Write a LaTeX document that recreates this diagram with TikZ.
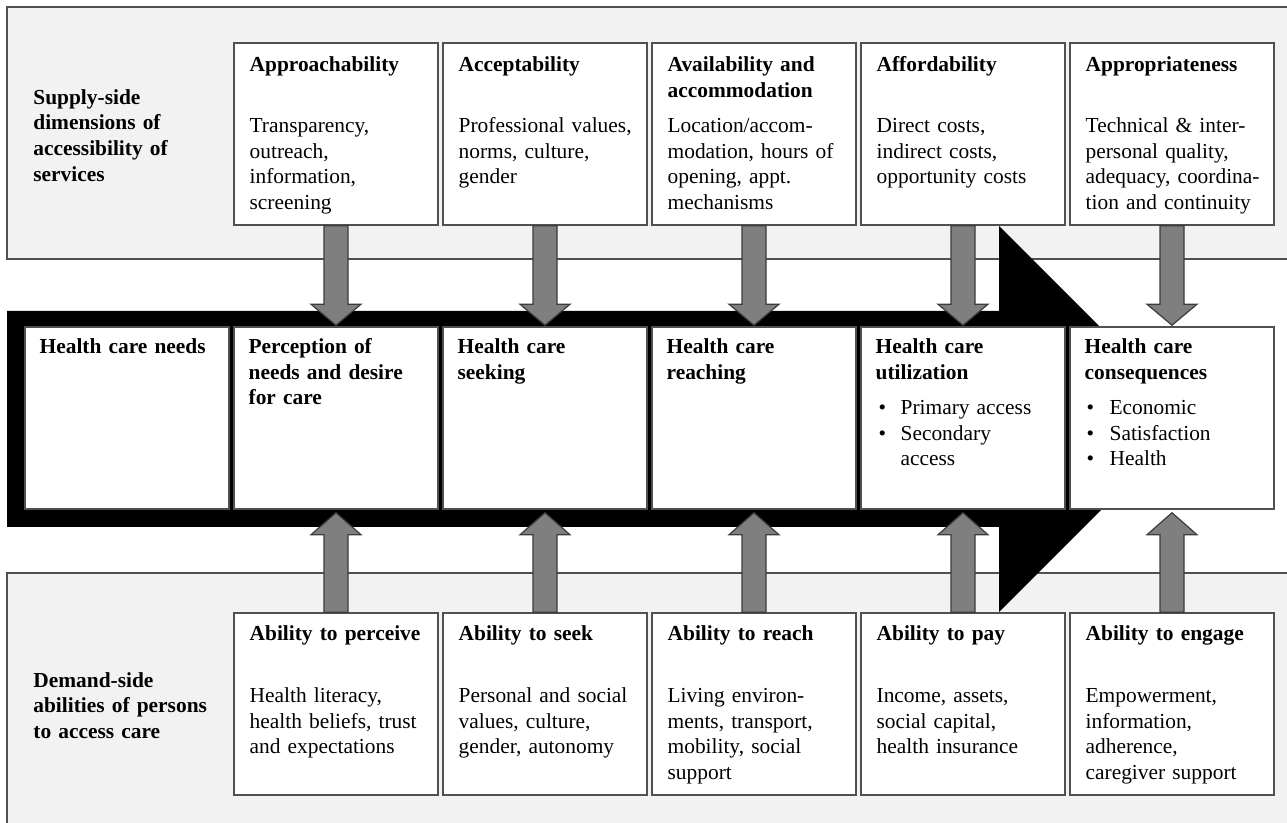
\documentclass[tikz,border=0pt]{standalone}
\usepackage{fontspec}
\setmainfont{Liberation Serif}
\usetikzlibrary{positioning}
\definecolor{panelgray}{HTML}{F2F2F2}
\definecolor{linegray}{HTML}{505050}
\definecolor{arrowgray}{HTML}{7F7F7F}
\definecolor{arrowline}{HTML}{3C3C3C}
\tikzset{
  panel/.style={
    draw=linegray,
    line width=0.75pt,
    fill=panelgray
    },
  box/.style={
    rectangle,
    minimum width=102pt,
    minimum height=91pt,
    inner sep=0pt,
    draw=linegray,
    line width=0.75pt,
    fill=white
    },
  ttl/.style={
    anchor=north west,
    inner sep=0pt,
    align=left,
    text width=95pt,
    font=\fontsize{10.7}{12.8}\selectfont\bfseries
    },
  txt/.style={
    anchor=north west,
    inner sep=0pt,
    align=left,
    text width=95pt,
    font=\fontsize{10.7}{12.8}\selectfont
    },
  garrow/.style={
    draw=arrowline,
    line width=0.6pt,
    fill=arrowgray
    }
}

\begin{document}
\begin{tikzpicture}[x=0.5pt, y=-0.5pt, node distance=1.75pt]
\useasboundingbox (0,0) rectangle (1287,823);

% grey panels
\begin{scope}
\clip (0,0) rectangle (1287,823);
\draw[panel] (7,7) rectangle (1300,259);
\draw[panel] (7,573) rectangle (1300,840);
\end{scope}

% big black arrow
\fill[black] (7,311) -- (999,311) -- (999,226) -- (1192,419) -- (999,612) -- (999,527) -- (7,527) -- cycle;

% boxes
\node (sup1) [box] at (336,134) {};
\node (sup2) [box,right=of sup1] {};
\node (sup3) [box,right=of sup2] {};
\node (sup4) [box,right=of sup3] {};
\node (sup5) [box,right=of sup4] {};

\node (hc1) [box] at (127,418) {};
\node (hc2) [box,right=of hc1] {};
\node (hc3) [box,right=of hc2] {};
\node (hc4) [box,right=of hc3] {};
\node (hc5) [box,right=of hc4] {};
\node (hc6) [box,right=of hc5] {};

\node (dem1) [box] at (336,704) {};
\node (dem2) [box,right=of dem1] {};
\node (dem3) [box,right=of dem2] {};
\node (dem4) [box,right=of dem3] {};
\node (dem5) [box,right=of dem4] {};

% grey arrows
\foreach \i/\j in {1/2,2/3,3/4,4/5,5/6} {
  \draw[garrow] ([shift={(-12,0)}]sup\i.south) -- ([shift={(-12,-22)}]hc\j.north)
    -- ([shift={(-25,-22)}]hc\j.north) -- ([shift={(0,-1)}]hc\j.north)
    -- ([shift={(25,-22)}]hc\j.north) -- ([shift={(12,-22)}]hc\j.north)
    -- ([shift={(12,0)}]sup\i.south) -- cycle;
  \draw[garrow] ([shift={(-12,0)}]dem\i.north) -- ([shift={(-12,25)}]hc\j.south)
    -- ([shift={(-25,25)}]hc\j.south) -- ([shift={(0,3)}]hc\j.south)
    -- ([shift={(25,25)}]hc\j.south) -- ([shift={(12,25)}]hc\j.south)
    -- ([shift={(12,0)}]dem\i.north) -- cycle;
}

% row labels
\node (suplbl) [ttl] at (33,86) {\strut Supply-side\\dimensions of\\accessibility of\\services};
\node (demlbl) [ttl] at (33,669) {\strut Demand-side\\abilities of persons\\to access care};

% supply side
\node (sup1t) [ttl] at ([shift={(16,11)}]sup1.north west) {\strut Approachability};
\node (sup1d) [txt] at ([shift={(16,72)}]sup1.north west) {\strut Transparency,\\outreach,\\information,\\screening};
\node (sup2t) [ttl] at ([shift={(16,11)}]sup2.north west) {\strut Acceptability};
\node (sup2d) [txt] at ([shift={(16,72)}]sup2.north west) {\strut Professional values,\\norms, culture,\\gender};
\node (sup3t) [ttl] at ([shift={(16,11)}]sup3.north west) {\strut Availability and\\accommodation};
\node (sup3d) [txt] at ([shift={(16,72)}]sup3.north west) {\strut Location/accom-\\modation, hours of\\opening, appt.\\mechanisms};
\node (sup4t) [ttl] at ([shift={(16,11)}]sup4.north west) {\strut Affordability};
\node (sup4d) [txt] at ([shift={(16,72)}]sup4.north west) {\strut Direct costs,\\indirect costs,\\opportunity costs};
\node (sup5t) [ttl] at ([shift={(16,11)}]sup5.north west) {\strut Appropriateness};
\node (sup5d) [txt] at ([shift={(16,72)}]sup5.north west) {\strut Technical \& inter-\\personal quality,\\adequacy, coordina-\\tion and continuity};

% health care steps
\node (hc1t) [ttl] at ([shift={(15,9)}]hc1.north west) {\strut Health care needs};
\node (hc2t) [ttl] at ([shift={(15,9)}]hc2.north west) {\strut Perception of\\needs and desire\\for care};
\node (hc3t) [ttl] at ([shift={(15,9)}]hc3.north west) {\strut Health care\\seeking};
\node (hc4t) [ttl] at ([shift={(15,9)}]hc4.north west) {\strut Health care\\reaching};
\node (hc5t) [ttl] at ([shift={(15,9)}]hc5.north west) {\strut Health care\\utilization};
\node (hc5d) [txt] at ([shift={(18,70)}]hc5.north west) {\strut\makebox[11pt][l]{\textbullet}Primary access\\\makebox[11pt][l]{\textbullet}Secondary\\\hspace*{11pt}access};
\node (hc6t) [ttl] at ([shift={(15,9)}]hc6.north west) {\strut Health care\\consequences};
\node (hc6d) [txt] at ([shift={(17,70)}]hc6.north west) {\strut\makebox[11.5pt][l]{\textbullet}Economic\\\makebox[11.5pt][l]{\textbullet}Satisfaction\\\makebox[11.5pt][l]{\textbullet}Health};

% demand side
\node (dem1t) [ttl] at ([shift={(16,10)}]dem1.north west) {\strut Ability to perceive};
\node (dem1d) [txt] at ([shift={(16,72)}]dem1.north west) {\strut Health literacy,\\health beliefs, trust\\and expectations};
\node (dem2t) [ttl] at ([shift={(16,10)}]dem2.north west) {\strut Ability to seek};
\node (dem2d) [txt] at ([shift={(16,72)}]dem2.north west) {\strut Personal and social\\values, culture,\\gender, autonomy};
\node (dem3t) [ttl] at ([shift={(16,10)}]dem3.north west) {\strut Ability to reach};
\node (dem3d) [txt] at ([shift={(16,72)}]dem3.north west) {\strut Living environ-\\ments, transport,\\mobility, social\\support};
\node (dem4t) [ttl] at ([shift={(16,10)}]dem4.north west) {\strut Ability to pay};
\node (dem4d) [txt] at ([shift={(16,72)}]dem4.north west) {\strut Income, assets,\\social capital,\\health insurance};
\node (dem5t) [ttl] at ([shift={(16,10)}]dem5.north west) {\strut Ability to engage};
\node (dem5d) [txt] at ([shift={(16,72)}]dem5.north west) {\strut Empowerment,\\information,\\adherence,\\caregiver support};
\end{tikzpicture}
\end{document}
